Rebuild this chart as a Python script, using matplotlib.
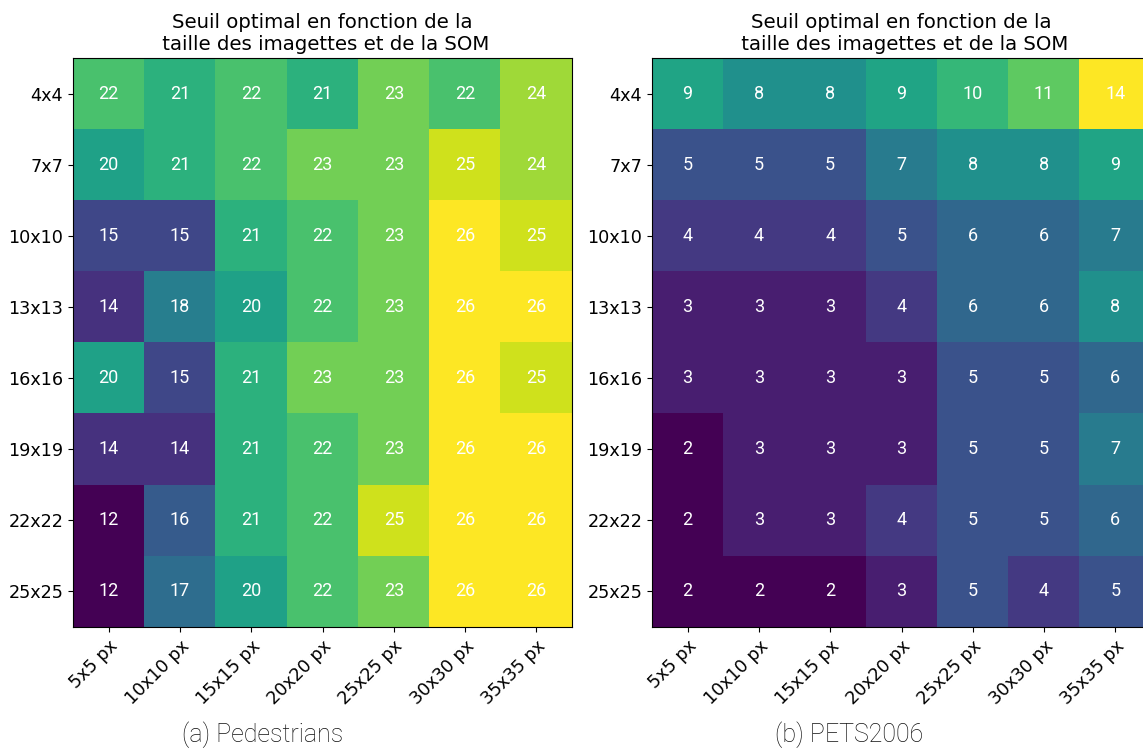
import numpy as np
import matplotlib
matplotlib.use("Agg")
import matplotlib.pyplot as plt

rows = ["4x4", "7x7", "10x10", "13x13", "16x16", "19x19", "22x22", "25x25"]
cols = ["5x5 px", "10x10 px", "15x15 px", "20x20 px", "25x25 px", "30x30 px", "35x35 px"]

pedestrians = np.array([
    [22, 21, 22, 21, 23, 22, 24],
    [20, 21, 22, 23, 23, 25, 24],
    [15, 15, 21, 22, 23, 26, 25],
    [14, 18, 20, 22, 23, 26, 26],
    [20, 15, 21, 23, 23, 26, 25],
    [14, 14, 21, 22, 23, 26, 26],
    [12, 16, 21, 22, 25, 26, 26],
    [12, 17, 20, 22, 23, 26, 26],
])

pets2006 = np.array([
    [9, 8, 8, 9, 10, 11, 14],
    [5, 5, 5, 7, 8, 8, 9],
    [4, 4, 4, 5, 6, 6, 7],
    [3, 3, 3, 4, 6, 6, 8],
    [3, 3, 3, 3, 5, 5, 6],
    [2, 3, 3, 3, 5, 5, 7],
    [2, 3, 3, 4, 5, 5, 6],
    [2, 2, 2, 3, 5, 4, 5],
])

title = "Seuil optimal en fonction de la\n taille des imagettes et de la SOM"
captions = ["(a) Pedestrians", "(b) PETS2006"]

fig = plt.figure(figsize=(11.43, 7.51), dpi=100)
W, H = 1143, 751

positions = [(73, 572), (652, 1151)]
caption_x = [263, 849]


def draw(ax, data):
    ax.imshow(data, cmap="viridis", aspect="auto")
    ax.set_xticks(range(len(cols)))
    ax.set_xticklabels(cols, rotation=45, ha="right", rotation_mode="anchor", fontsize=12.7)
    ax.set_yticks(range(len(rows)))
    ax.set_yticklabels(rows, fontsize=12.7)
    for i in range(data.shape[0]):
        for j in range(data.shape[1]):
            ax.text(j, i, str(data[i, j]), ha="center", va="center",
                    color="w", fontsize=13, family="Roboto")
    ax.set_title(title, fontsize=14.2, pad=6)


for k, data in enumerate([pedestrians, pets2006]):
    x0, x1 = positions[k]
    ax = fig.add_axes([x0 / W, (751 - 627) / H, (x1 - x0) / W, 569 / H])
    draw(ax, data)
    fig.text(caption_x[k] / W, 1 - 735 / H, captions[k], ha="center", va="center",
             fontsize=18, family="Roboto", fontweight="light", color="#111111")

fig.savefig("out.png", dpi=100)
